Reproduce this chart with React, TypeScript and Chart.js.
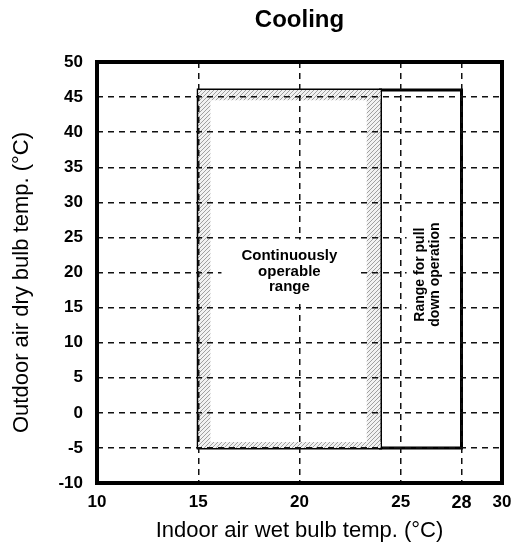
import React, { useEffect, useRef } from "react";
import { Chart, registerables } from "chart.js";

Chart.register(...registerables);

// ---- data ----
const TITLE = "Cooling";
const X_TITLE = "Indoor air wet bulb temp. (°C)";
const Y_TITLE = "Outdoor air dry bulb temp. (°C)";
const X_TICKS = [10, 15, 20, 25, 28, 30];
const X_TICK_EMPHASIS = 28;
const Y_TICKS = [-10, -5, 0, 5, 10, 15, 20, 25, 30, 35, 40, 45, 50];
const CONT_X = [15, 24];
const CONT_Y = [-5, 46];
const PULL_X = [24, 28];
const PULL_Y = [-5, 46];
const CONT_LABEL = ["Continuously", "operable", "range"];
const CONT_LABEL_AT = [19.5, 20.1];
const PULL_LABEL = ["Range for pull", "down operation"];
const PULL_LABEL_AT = [26.35, 19.7];
// thickness of the hatched band inside the continuous range (data units)
const HATCH = { left: 0.6, right: 0.68, top: 1.45, bottom: 0.85 };

const FONT = "'Liberation Sans', Arial, Helvetica, sans-serif";

type P = { x: number; y: number };
const rect = (x0: number, x1: number, y0: number, y1: number): P[] => [
  { x: x0, y: y0 },
  { x: x0, y: y1 },
  { x: x1, y: y1 },
  { x: x1, y: y0 },
  { x: x0, y: y0 },
];

function makeHatch(): CanvasPattern | string {
  const c = document.createElement("canvas");
  c.width = 4;
  c.height = 4;
  const g = c.getContext("2d");
  if (!g) return "#cccccc";
  g.fillStyle = "#f2f2f2";
  g.fillRect(0, 0, 4, 4);
  g.strokeStyle = "#a0a0a0";
  g.lineWidth = 1;
  g.beginPath();
  g.moveTo(0, 4);
  g.lineTo(4, 0);
  g.moveTo(-1, 1);
  g.lineTo(1, -1);
  g.moveTo(3, 5);
  g.lineTo(5, 3);
  g.stroke();
  return g.createPattern(c, "repeat") || "#cccccc";
}

function drawLabel(
  ctx: CanvasRenderingContext2D,
  lines: string[],
  cx: number,
  cy: number,
  rot: number,
  font: string,
  lh: number,
  padX: number,
  padY: number,
  box: boolean
) {
  ctx.save();
  ctx.translate(cx, cy);
  ctx.rotate(rot);
  ctx.font = font;
  const w = Math.max(...lines.map((l) => ctx.measureText(l).width));
  const h = lines.length * lh;
  if (box) {
    ctx.fillStyle = "#ffffff";
    ctx.fillRect(-w / 2 - padX, -h / 2 - padY, w + 2 * padX, h + 2 * padY);
  }
  ctx.fillStyle = "#000000";
  ctx.textAlign = "center";
  ctx.textBaseline = "middle";
  lines.forEach((l, i) => ctx.fillText(l, 0, -h / 2 + lh * (i + 0.5)));
  ctx.restore();
}

const framePlugin = {
  id: "frameAndLabels",
  afterDraw(chart: any) {
    const { ctx, chartArea, scales } = chart;
    const x = scales.x;
    const y = scales.y;
    drawLabel(
      ctx,
      CONT_LABEL,
      x.getPixelForValue(CONT_LABEL_AT[0]),
      y.getPixelForValue(CONT_LABEL_AT[1]),
      0,
      `bold 15px ${FONT}`,
      15.5,
      20,
      9,
      true
    );
    drawLabel(
      ctx,
      PULL_LABEL,
      x.getPixelForValue(PULL_LABEL_AT[0]),
      y.getPixelForValue(PULL_LABEL_AT[1]),
      -Math.PI / 2,
      `bold 14px ${FONT}`,
      15,
      4,
      6.5,
      true
    );
    // y axis title
    drawLabel(
      ctx,
      [Y_TITLE],
      22,
      (chartArea.top + chartArea.bottom) / 2 + 10,
      -Math.PI / 2,
      `22px ${FONT}`,
      26,
      0,
      0,
      false
    );
    ctx.save();
    ctx.strokeStyle = "#000";
    ctx.lineWidth = 4;
    ctx.lineJoin = "miter";
    ctx.strokeRect(
      chartArea.left,
      chartArea.top,
      chartArea.right - chartArea.left,
      chartArea.bottom - chartArea.top
    );
    ctx.restore();
  },
};

export default function App() {
  const ref = useRef<HTMLCanvasElement | null>(null);

  useEffect(() => {
    if (!ref.current) return;
    Chart.defaults.font.family = FONT;
    const hatch = makeHatch();
    const strip = (pts: P[]) => ({
      data: pts,
      showLine: true,
      fill: "shape",
      backgroundColor: hatch,
      borderWidth: 0,
      borderColor: "rgba(0,0,0,0)",
      pointRadius: 0,
      pointHoverRadius: 0,
    });
    const outline = (pts: P[], w: number) => ({
      data: pts,
      showLine: true,
      fill: false,
      borderColor: "#000",
      borderWidth: w,
      borderJoinStyle: "miter",
      borderCapStyle: "square",
      pointRadius: 0,
      pointHoverRadius: 0,
      tension: 0,
    });

    const chart = new Chart(ref.current, {
      type: "line",
      data: {
        datasets: [
          strip(rect(CONT_X[0], CONT_X[0] + HATCH.left, CONT_Y[0], CONT_Y[1])),
          strip(rect(CONT_X[1] - HATCH.right, CONT_X[1], CONT_Y[0], CONT_Y[1])),
          strip(rect(CONT_X[0], CONT_X[1], CONT_Y[1] - HATCH.top, CONT_Y[1])),
          strip(rect(CONT_X[0], CONT_X[1], CONT_Y[0], CONT_Y[0] + HATCH.bottom)),
          outline(rect(CONT_X[0], CONT_X[1], CONT_Y[0], CONT_Y[1]), 3),
          outline(rect(PULL_X[0], PULL_X[1], PULL_Y[0], PULL_Y[1]), 3),
        ] as any,
      },
      options: {
        animation: false,
        responsive: true,
        maintainAspectRatio: false,
        events: [],
        layout: { padding: 0 },
        plugins: {
          legend: { display: false },
          tooltip: { enabled: false },
          title: {
            display: true,
            text: TITLE,
            color: "#000",
            fullSize: false,
            font: { size: 24, weight: "bold", family: FONT },
            padding: { top: 5.6, bottom: 27.6 },
          },
        },
        scales: {
          x: {
            type: "linear",
            min: X_TICKS[0],
            max: X_TICKS[X_TICKS.length - 1],
            afterBuildTicks: (s: any) => {
              s.ticks = X_TICKS.map((v) => ({ value: v }));
            },
            afterFit: (s: any) => {
              s.height = 65;
              s.paddingRight = 12;
              s.paddingLeft = 0;
            },
            grid: { color: "#111", lineWidth: 1.5, drawTicks: false, z: 1 },
            border: { display: false, dash: [6, 5] },
            ticks: {
              color: "#000",
              padding: 9,
              maxRotation: 0,
              autoSkip: false,
              font: (c: any) => ({
                size: c.tick && c.tick.value === X_TICK_EMPHASIS ? 18 : 17,
                weight: "bold",
                family: FONT,
              }),
            },
            title: {
              display: true,
              text: X_TITLE,
              color: "#000",
              font: { size: 22, family: FONT },
              padding: { top: 0, bottom: 3.8 },
            },
          },
          y: {
            type: "linear",
            min: Y_TICKS[0],
            max: Y_TICKS[Y_TICKS.length - 1],
            afterBuildTicks: (s: any) => {
              s.ticks = Y_TICKS.map((v) => ({ value: v }));
            },
            afterFit: (s: any) => {
              s.width = 97;
            },
            grid: { color: "#111", lineWidth: 1.5, drawTicks: false, z: 1 },
            border: { display: false, dash: [6, 5] },
            ticks: {
              color: "#000",
              padding: 14,
              autoSkip: false,
              font: { size: 17, weight: "bold", family: FONT },
            },
            title: { display: false },
          },
        },
      } as any,
      plugins: [framePlugin],
    });
    return () => chart.destroy();
  }, []);

  return (
    <div style={{ position: "absolute", left: 0, top: 0, width: 514, height: 548 }}>
      <canvas ref={ref} />
    </div>
  );
}
